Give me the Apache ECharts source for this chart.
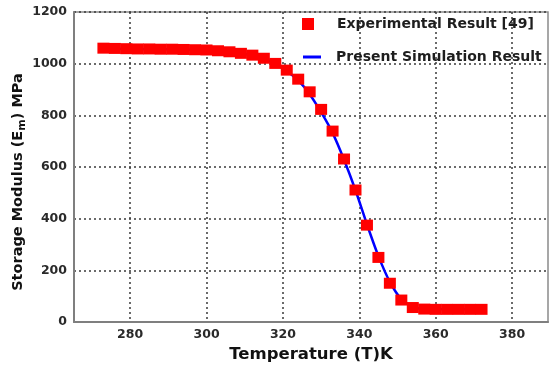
<!DOCTYPE html>
<html>
<head>
<meta charset="utf-8">
<script src="https://cdn.jsdelivr.net/npm/echarts@6/dist/echarts.min.js"></script>
<style>html,body{margin:0;padding:0;background:#fff}#c{width:550px;height:365px}</style>
</head>
<body>
<div id="c"></div>
<script>
// Experimental Result [49]
const expTemp = [273, 276, 279, 282, 285, 288, 291, 294, 297, 300, 303, 306, 309, 312, 315, 318, 321, 324, 327, 330, 333, 336, 339, 342, 345, 348, 351, 354, 357, 360, 363, 366, 369, 372];
const expModulus = [1060, 1059, 1058, 1057, 1057, 1056, 1056, 1055, 1054, 1053, 1050, 1046, 1040, 1033, 1021, 1001, 975, 940, 891, 823, 739, 631, 511, 375, 250, 150, 85, 56, 50, 49, 49, 49, 49, 49];
// Present Simulation Result
const simTemp = [273, 285, 297, 303, 309, 315, 318, 321, 324, 327, 330, 333, 336, 339, 342, 345, 348, 351, 354, 357, 360, 366, 372];
const simModulus = [1058, 1056, 1054, 1050, 1040, 1020, 1000, 972, 935, 882, 812, 732, 628, 510, 378, 255, 155, 88, 58, 50, 49, 49, 49];
// Tick labels
const xTicks = [280, 300, 320, 340, 360, 380];
const yTicks = [0, 200, 400, 600, 800, 1000, 1200];

const FONT = 'DejaVu Sans';
const chart = echarts.init(document.getElementById('c'), null, {renderer: 'canvas'});
const gridLine = {show: true, lineStyle: {color: '#3a3a3a', type: [2, 3], width: 1.5}};
chart.setOption({
  animation: false,
  backgroundColor: '#fff',
  grid: {left: 74, right: 2, top: 12, bottom: 43, show: true, borderColor: '#8a8a8a', borderWidth: 1.5, outerBoundsMode: 'none', containLabel: false},
  legend: [
    {data: [{name: 'Experimental Result [49]', icon: 'rect'}], left: 302, top: 17, padding: 0, itemWidth: 12, itemHeight: 12,
     textStyle: {fontFamily: FONT, fontWeight: 'bold', fontSize: 14, color: '#1e1e1e', padding: [0, 0, 0, 18]}},
    {data: [{name: 'Present Simulation Result', icon: 'rect'}], left: 303, top: 50, padding: 0, itemWidth: 18, itemHeight: 3,
     textStyle: {fontFamily: FONT, fontWeight: 'bold', fontSize: 14, color: '#1e1e1e', padding: [0, 0, 0, 10]}}
  ],
  xAxis: {
    type: 'value', min: 265.3, max: 389.4,
    name: 'Temperature (T)K', nameLocation: 'middle', nameGap: 20,
    nameTextStyle: {fontFamily: FONT, fontWeight: 'bold', fontSize: 16.5, color: '#111'},
    axisLine: {show: true, lineStyle: {color: '#7f7f7f', width: 2}},
    axisTick: {show: false, customValues: xTicks},
    axisLabel: {customValues: xTicks, margin: 6, fontFamily: FONT, fontWeight: 'bold', fontSize: 12.5, color: '#2a2a2a'},
    splitLine: gridLine
  },
  yAxis: {
    type: 'value', min: 0, max: 1200, interval: 200,
    name: '{a|Storage Modulus (E}{s|m}{a|) MPa}', nameLocation: 'middle', nameGap: 46, nameMoveOverlap: false,
    nameTextStyle: {padding: [0, 30, 0, 0], rich: {
      a: {fontFamily: FONT, fontWeight: 'bold', fontSize: 14.5, color: '#111', lineHeight: 20},
      s: {fontFamily: FONT, fontWeight: 'bold', fontSize: 11, color: '#111', lineHeight: 20, verticalAlign: 'bottom', padding: [8, 0, 0, 0]}
    }},
    axisLine: {show: true, lineStyle: {color: '#7f7f7f', width: 2}},
    axisTick: {show: false},
    axisLabel: {margin: 7, fontFamily: FONT, fontWeight: 'bold', fontSize: 12.5, color: '#2a2a2a', formatter: v => yTicks.includes(v) ? String(v) : ''},
    splitLine: gridLine
  },
  series: [
    {
      name: 'Present Simulation Result', type: 'line', z: 2,
      data: simTemp.map((t, i) => [t, simModulus[i]]),
      smooth: 0.3, showSymbol: false, symbol: 'none',
      color: '#0000ff', lineStyle: {color: '#0000ff', width: 2.5}, itemStyle: {color: '#0000ff'}
    },
    {
      name: 'Experimental Result [49]', type: 'scatter', z: 3,
      data: expTemp.map((t, i) => [t, expModulus[i]]),
      symbol: 'rect', symbolSize: [12, 11],
      itemStyle: {color: '#ff0000', opacity: 1}
    }
  ]
});
</script>
</body>
</html>
